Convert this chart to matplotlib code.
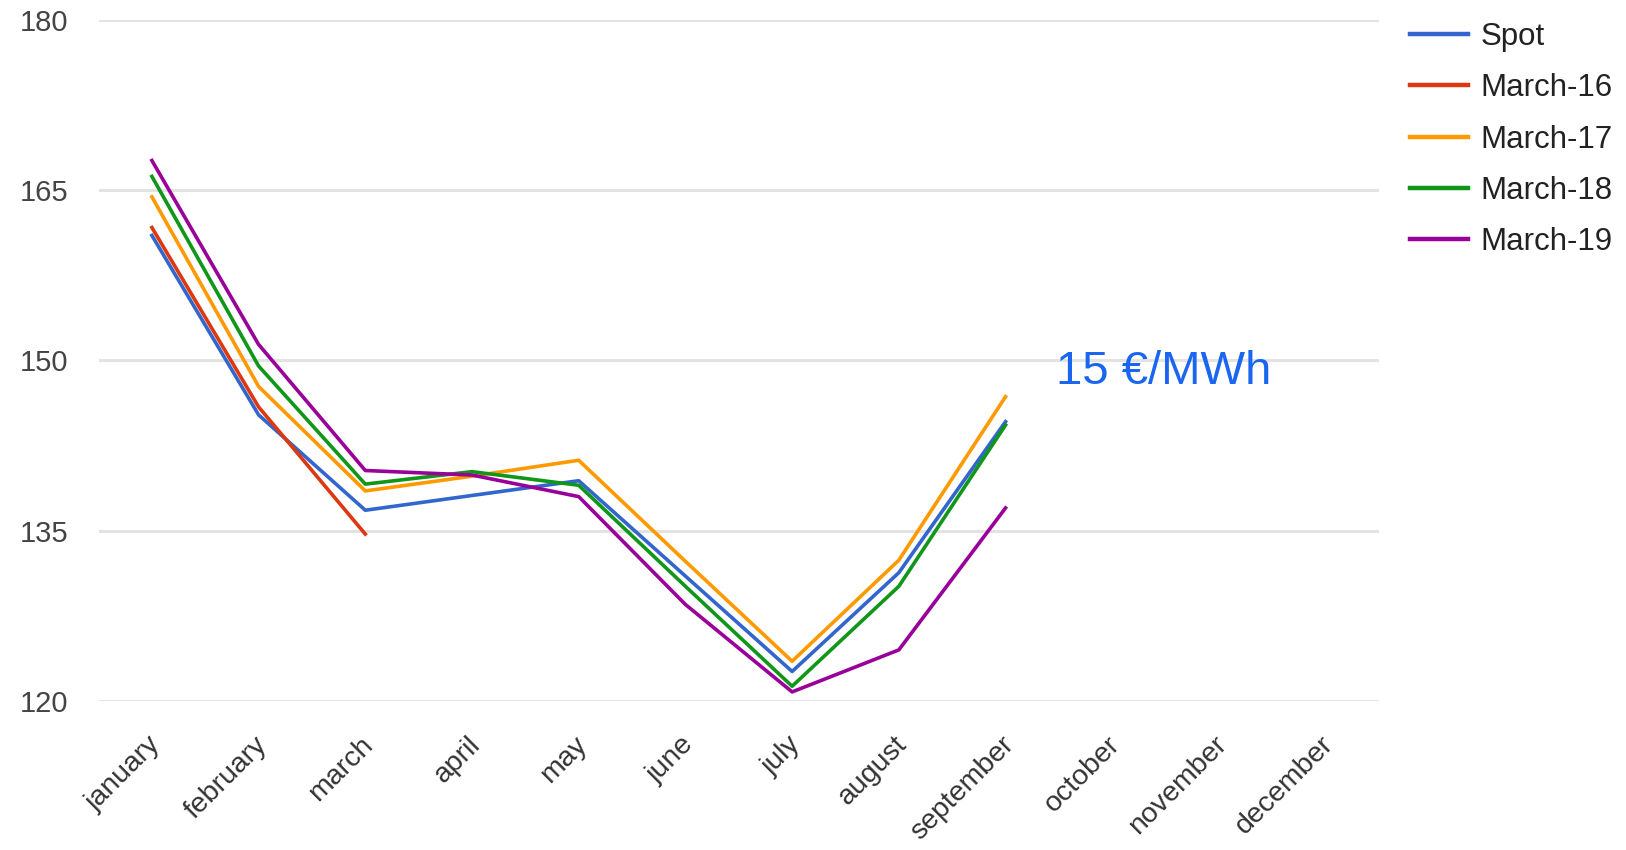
import matplotlib
matplotlib.use("Agg")
import matplotlib.pyplot as plt
from matplotlib.transforms import ScaledTranslation

plt.rcParams['font.family'] = ['Liberation Sans', 'DejaVu Sans']

months = ["january", "february", "march", "april", "may", "june",
          "july", "august", "september", "october", "november", "december"]

spot     = [161.0, 145.2, 136.8, 138.1, 139.4, 131.0, 122.6, 131.3, 144.6]
march_16 = [161.7, 145.9, 134.7]
march_17 = [164.4, 147.7, 138.5, 139.8, 141.2, 132.3, 123.5, 132.4, 146.8]
march_18 = [166.2, 149.5, 139.1, 140.2, 139.0, 130.1, 121.3, 130.1, 144.3]
march_19 = [167.6, 151.4, 140.3, 139.9, 138.0, 128.5, 120.8, 124.5, 137.0]

series = [("Spot", spot, "#3366cc"),
          ("March-16", march_16, "#dc3912"),
          ("March-17", march_17, "#ff9900"),
          ("March-18", march_18, "#109618"),
          ("March-19", march_19, "#990099")]

y_ticks = [120, 135, 150, 165, 180]
spread_label = "15 €/MWh"

fig = plt.figure(figsize=(16.26, 8.5), dpi=100)
ax = fig.add_axes([0.0606, 0.1753, 0.7875, 0.8015])

x = list(range(len(months)))
for name, vals, color in series:
    ax.plot(x[:len(vals)], vals, color=color, lw=2.6, label=name,
            solid_joinstyle='round', zorder=3)

ax.set_xlim(-0.5, len(months) - 0.5)
ax.set_ylim(min(y_ticks), max(y_ticks))
ax.set_yticks(y_ticks)
ax.set_xticks(x)
ax.set_xticklabels(months, rotation=45, ha='right', rotation_mode='anchor')
ax.tick_params(axis='y', length=0, labelsize=21, labelcolor='#444444', pad=22)
ax.tick_params(axis='x', length=0, labelsize=20.5, labelcolor='#333333', pad=22)
shift = ScaledTranslation(-5 / 100, 0, fig.dpi_scale_trans)
for lbl in ax.get_xticklabels():
    lbl.set_transform(lbl.get_transform() + shift)
for s in ax.spines.values():
    s.set_visible(False)
ax.grid(axis='y', color='#e3e3e3', lw=2.2, zorder=0)
ax.set_axisbelow(True)

ax.text(8.47, 149.0, spread_label, color='#1a66f0', fontsize=34,
        ha='left', va='center')

leg = fig.legend(loc='upper left', bbox_to_anchor=(1410 / 1626, 0.974),
                 frameon=False, fontsize=22.5, handlelength=1.85,
                 handletextpad=0.4, labelspacing=0.68, borderpad=0,
                 borderaxespad=0, labelcolor='#222222')
for h in leg.legend_handles:
    h.set_linewidth(3.2)

fig.savefig("out.png", dpi=100)
